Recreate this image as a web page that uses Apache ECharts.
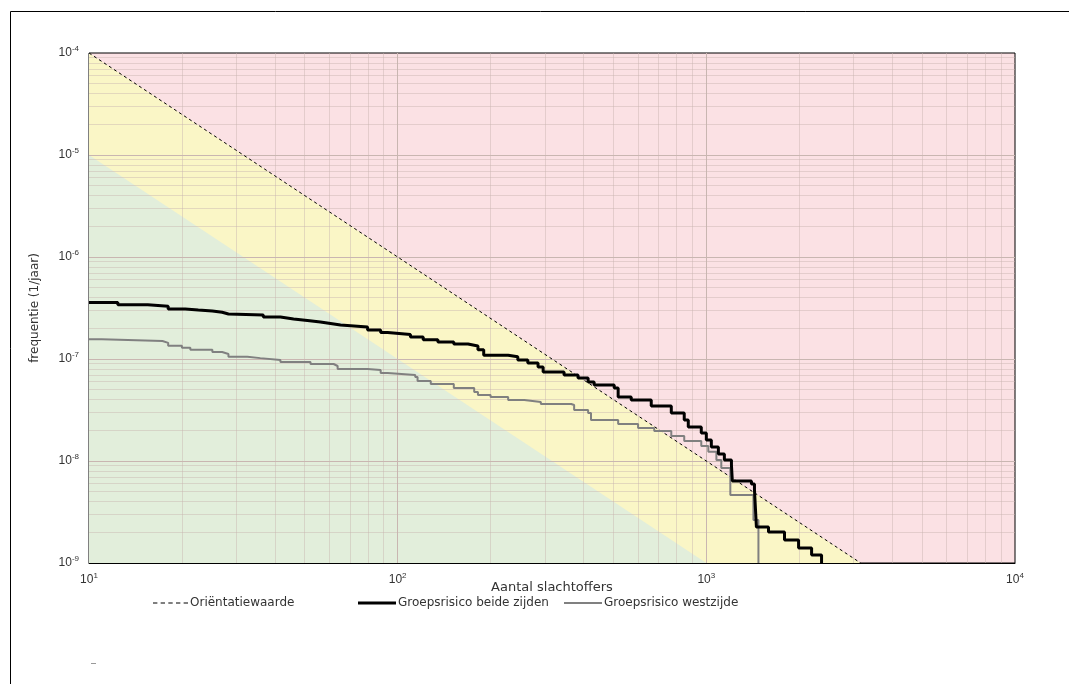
<!DOCTYPE html>
<html>
<head>
<meta charset="utf-8">
<script src="https://cdn.jsdelivr.net/npm/echarts@6/dist/echarts.min.js"></script>
<style>
  html, body { margin: 0; padding: 0; background: #fff; }
  #chart { width: 1069px; height: 684px; }
</style>
</head>
<body>
<div id="chart"></div>
<script>
// exponent tick labels
const xTickExps = [1, 2, 3, 4]
const yTickExps = [-9, -8, -7, -6, -5, -4]

// zones (N, F)
const orientatie = [[10, 1e-4], [3162, 1e-9]]
const groenGrens = [[10, 1e-5], [1000, 1e-9]]

// FN curve both sides (N, F)
const beideZijden = [
  [10, 3.58e-7], [12.4, 3.41e-7], [15.5, 3.29e-7], [18.05, 3.09e-7], [20.5, 3.02e-7],
  [22.6, 2.95e-7], [25.1, 2.87e-7], [27.0, 2.76e-7], [28.3, 2.70e-7], [36.7, 2.58e-7],
  [41.7, 2.47e-7], [46.0, 2.39e-7], [51.0, 2.31e-7], [56.2, 2.23e-7], [60.6, 2.15e-7],
  [65.3, 2.06e-7], [79.9, 1.92e-7], [88.1, 1.82e-7], [92.8, 1.74e-7], [110, 1.64e-7],
  [121, 1.54e-7], [135, 1.47e-7], [152, 1.40e-7], [169, 1.34e-7], [182, 1.23e-7],
  [190, 1.09e-7], [228, 1.05e-7], [245, 9.8e-8], [264, 9.14e-8], [285, 8.35e-8],
  [296, 7.46e-8], [346, 6.97e-8], [384, 6.51e-8], [414, 5.95e-8], [433, 5.56e-8],
  [503, 5.20e-8], [518, 4.24e-8], [571, 3.96e-8], [663, 3.46e-8], [770, 2.95e-8],
  [848, 2.52e-8], [874, 2.15e-8], [963, 1.88e-8], [1000, 1.61e-8], [1038, 1.37e-8],
  [1094, 1.17e-8], [1144, 1.02e-8], [1206, 9.14e-9], [1214, 6.37e-9], [1400, 5.95e-9],
  [1432, 5.20e-9], [1453, 2.25e-9], [1590, 2.01e-9], [1792, 1.68e-9], [1990, 1.40e-9],
  [2193, 1.20e-9], [2362, 1e-9]
]

// FN curve west side (N, F)
const westZijde = [
  [10, 1.56e-7], [11.0, 1.50e-7], [17.3, 1.44e-7], [18.05, 1.35e-7], [20.0, 1.29e-7],
  [21.3, 1.23e-7], [25.1, 1.17e-7], [27.0, 1.12e-7], [28.3, 1.05e-7], [32.6, 1.02e-7],
  [35.9, 9.8e-8], [41.7, 9.35e-8], [52.2, 8.93e-8], [62.0, 8.54e-8], [63.9, 7.98e-8],
  [79.9, 7.80e-8], [88.1, 7.29e-8], [92.8, 6.97e-8], [114, 6.66e-8], [116, 6.08e-8],
  [128, 5.69e-8], [152, 5.20e-8], [177, 4.75e-8], [182, 4.44e-8], [200, 4.24e-8],
  [228, 3.96e-8], [257, 3.79e-8], [291, 3.62e-8], [365, 3.54e-8], [373, 3.16e-8],
  [414, 2.95e-8], [423, 2.52e-8], [518, 2.31e-8], [601, 2.11e-8], [678, 1.97e-8],
  [770, 1.76e-8], [848, 1.57e-8], [963, 1.40e-8], [1015, 1.23e-8], [1078, 1.02e-8],
  [1118, 8.54e-9], [1196, 4.64e-9], [1421, 2.64e-9], [1475, 1e-9]
]

// gridlines (log decades with 2..9 minors)
const majorColor = '#c9b6b1'
const minorColor = 'rgba(200,180,175,0.45)'
const gridLines = []
for (let e = 1; e < 4; e++) {
  for (let m = 1; m <= 9; m++) {
    if (e === 1 && m === 1) continue
    const v = m * Math.pow(10, e)
    gridLines.push({ coords: [[v, 1e-9], [v, 1e-4]], lineStyle: { color: m === 1 ? majorColor : minorColor } })
  }
}
for (let e = -9; e < -4; e++) {
  for (let m = 1; m <= 9; m++) {
    if (e === -9 && m === 1) continue
    const v = m * Math.pow(10, e)
    gridLines.push({ coords: [[10, v], [10000, v]], lineStyle: { color: m === 1 ? majorColor : minorColor } })
  }
}

const expLabel = (list) => (v) => {
  const e = list.find(x => Math.abs(Math.log10(v) - x) < 0.01)
  return e === undefined ? '' : '10{s|' + e + '}'
}

// dashed legend icon
let dashPath = 'path://'
for (let i = 0; i < 35; i += 7) dashPath += 'M' + i + ' 0h4v1h-4z'

const font = 'DejaVu Sans, sans-serif'
const labelFont = 'Liberation Sans, Arial, sans-serif'
const chart = echarts.init(document.getElementById('chart'))
const legendBase = {
  padding: 0, itemGap: 0, top: 597, symbolKeepAspect: false,
  textStyle: { fontSize: 12, color: '#333', fontFamily: font, padding: [0, 0, 0, -3] }
}
const option = {
  animation: false,
  backgroundColor: '#fff',
  textStyle: { fontFamily: font },
  grid: {
    left: 89, right: 54, top: 53, bottom: 121,
    show: true, backgroundColor: '#fbe1e4', borderColor: '#000', borderWidth: 1
  },
  xAxis: {
    type: 'log', logBase: 10, min: 10, max: 10000,
    name: 'Aantal slachtoffers', nameLocation: 'middle', nameGap: 18, nameMoveOverlap: false,
    nameTextStyle: { fontSize: 13, color: '#333', fontFamily: font },
    axisLine: { lineStyle: { color: '#000' } },
    axisTick: { show: false },
    splitLine: { show: false },
    axisLabel: {
      margin: 9, color: '#333', fontSize: 12, fontFamily: labelFont,
      formatter: expLabel(xTickExps),
      rich: { s: { fontSize: 8, verticalAlign: 'top', padding: [0, 0, 8, 0], color: '#333' } }
    }
  },
  yAxis: {
    type: 'log', logBase: 10, min: 1e-9, max: 1e-4,
    name: 'frequentie (1/jaar)', nameLocation: 'middle', nameGap: 48, nameMoveOverlap: false,
    nameTextStyle: { fontSize: 12, color: '#333', fontFamily: font },
    axisLine: { lineStyle: { color: '#888' } },
    axisTick: { show: false },
    splitLine: { show: false },
    axisLabel: {
      margin: 10, color: '#333', fontSize: 12, fontFamily: labelFont,
      formatter: expLabel(yTickExps),
      rich: { s: { fontSize: 8, verticalAlign: 'top', padding: [0, 0, 8, 0], color: '#333' } }
    }
  },
  legend: [
    Object.assign({ data: [{ name: 'Oriëntatiewaarde', icon: dashPath }], left: 153, itemWidth: 35, itemHeight: 1 }, legendBase),
    Object.assign({ data: [{ name: 'Groepsrisico beide zijden', icon: 'rect' }], left: 358, itemWidth: 38, itemHeight: 3 }, legendBase),
    Object.assign({ data: [{ name: 'Groepsrisico westzijde', icon: 'rect' }], left: 564, itemWidth: 38, itemHeight: 2 }, legendBase)
  ],
  graphic: [
    { type: 'rect', shape: { x: 10.5, y: 11.5, width: 1100, height: 700 }, style: { fill: 'none', stroke: '#000', lineWidth: 1 }, silent: true },
    { type: 'line', shape: { x1: 91, y1: 663.5, x2: 96, y2: 663.5 }, style: { stroke: '#999', lineWidth: 1 }, silent: true }
  ],
  series: [
    {
      name: 'zone geel', type: 'line', data: orientatie, symbol: 'none', silent: true, z: 1,
      lineStyle: { width: 0 }, areaStyle: { color: '#faf6c6', opacity: 1, origin: 'start' }
    },
    {
      name: 'zone groen', type: 'line', data: groenGrens, symbol: 'none', silent: true, z: 1,
      lineStyle: { width: 0 }, areaStyle: { color: '#e2eedb', opacity: 1, origin: 'start' }
    },
    {
      name: 'raster', type: 'lines', coordinateSystem: 'cartesian2d', silent: true, z: 2,
      lineStyle: { width: 1, opacity: 1 }, data: gridLines
    },
    {
      name: 'Oriëntatiewaarde', type: 'line', data: orientatie, symbol: 'none', z: 3,
      lineStyle: { color: '#000', width: 1, type: [3, 3] }, itemStyle: { color: '#000' }
    },
    {
      name: 'Groepsrisico westzijde', type: 'line', data: westZijde, symbol: 'none', step: 'end', z: 4,
      lineStyle: { color: '#808080', width: 2 }, itemStyle: { color: '#808080' }
    },
    {
      name: 'Groepsrisico beide zijden', type: 'line', data: beideZijden, symbol: 'none', step: 'end', z: 5,
      lineStyle: { color: '#000', width: 3 }, itemStyle: { color: '#000' }
    }
  ]
}
chart.setOption(option)
</script>
</body>
</html>
